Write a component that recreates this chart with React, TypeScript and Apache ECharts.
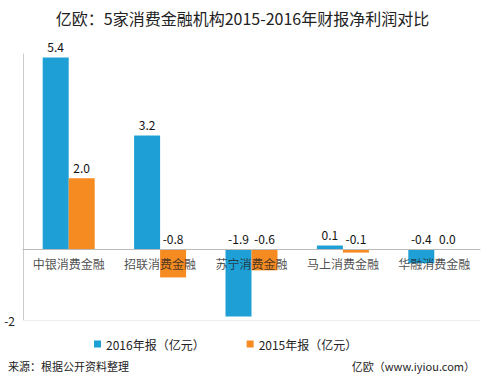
import React, { useEffect, useRef } from "react";
import * as echarts from "echarts";

const categories = ["中银消费金融", "招联消费金融", "苏宁消费金融", "马上消费金融", "华融消费金融"];
const values2016 = [5.4, 3.2, -1.9, 0.1, -0.4];
const values2015 = [2.0, -0.8, -0.6, -0.1, 0.0];
const seriesNames = ["2016年报（亿元）", "2015年报（亿元）"];
const titleText = "亿欧：5家消费金融机构2015-2016年财报净利润对比";
const sourceText = "来源：根据公开资料整理";
const siteText = "亿欧（www.iyiou.com）";

const FONT = "'Noto Sans CJK SC', 'Noto Sans', sans-serif";

export default function App() {
  const ref = useRef<HTMLDivElement>(null);
  useEffect(() => {
    if (!ref.current) return;
    const chart = echarts.init(ref.current, null, { renderer: "svg" });
    const label = {
      show: true,
      position: "top" as const,
      color: "#111",
      fontSize: 12,
      fontFamily: FONT,
      distance: 5,
      formatter: (p: any) => Number(p.value).toFixed(1),
    };
    chart.setOption({
      animation: false,
      textStyle: { fontFamily: FONT },
      title: {
        text: titleText,
        left: "center",
        top: 5,
        textStyle: { fontSize: 16, fontWeight: "normal", color: "#222", fontFamily: FONT },
      },
      legend: {
        left: 89,
        top: 333,
        itemWidth: 7,
        itemHeight: 7,
        itemGap: 42,
        icon: "rect",
        textStyle: { fontSize: 12, color: "#222", fontFamily: FONT },
        data: seriesNames,
      },
      grid: { left: 23, right: 5, top: 54, bottom: 57 },
      xAxis: {
        type: "category",
        data: categories,
        axisLine: { onZero: true, lineStyle: { color: "#bbb", width: 1 } },
        axisTick: { show: false },
        axisLabel: { show: false },
        z: 10,
      },
      yAxis: {
        type: "value",
        min: -2,
        max: 5.5,
        interval: 0.5,
        axisLine: { show: true, lineStyle: { color: "#ccc", width: 1 } },
        axisTick: { show: false },
        splitLine: { show: false },
        axisLabel: {
          color: "#222",
          fontSize: 12,
          margin: 8,
          formatter: (v: number) => (v === -2 ? "-2" : ""),
        },
      },
      series: [
        {
          name: seriesNames[0],
          type: "bar",
          data: values2016,
          barWidth: 26,
          barGap: "0%",
          itemStyle: { color: "#1E9FD5" },
          label,
          markLine: {
            silent: true,
            symbol: "none",
            label: { show: false },
            lineStyle: { color: "#eee", type: "solid", width: 1 },
            data: [{ yAxis: -2 }],
          },
        },
        {
          name: seriesNames[1],
          type: "bar",
          data: values2015,
          barWidth: 26,
          barGap: "0%",
          itemStyle: { color: "#F68B22" },
          label,
        },
        {
          name: "categoryLabels",
          type: "scatter",
          data: categories.map((c) => [c, 0]),
          symbolSize: 0,
          silent: true,
          z: 20,
          label: {
            show: true,
            position: "bottom",
            distance: 8,
            color: "#222",
            fontSize: 12,
            fontFamily: FONT,
            formatter: (p: any) => p.name || p.value[0],
          },
        },
      ],
      graphic: [
        {
          type: "text",
          left: 8,
          top: 360,
          style: { text: sourceText, fontSize: 11, fill: "#222", fontFamily: FONT },
        },
        {
          type: "text",
          right: 10,
          top: 360,
          style: { text: siteText, fontSize: 11, fill: "#222", fontFamily: FONT },
        },
      ],
    });
    return () => chart.dispose();
  }, []);
  return <div ref={ref} style={{ width: 485, height: 377, position: "absolute", left: 0, top: 0 }} />;
}
